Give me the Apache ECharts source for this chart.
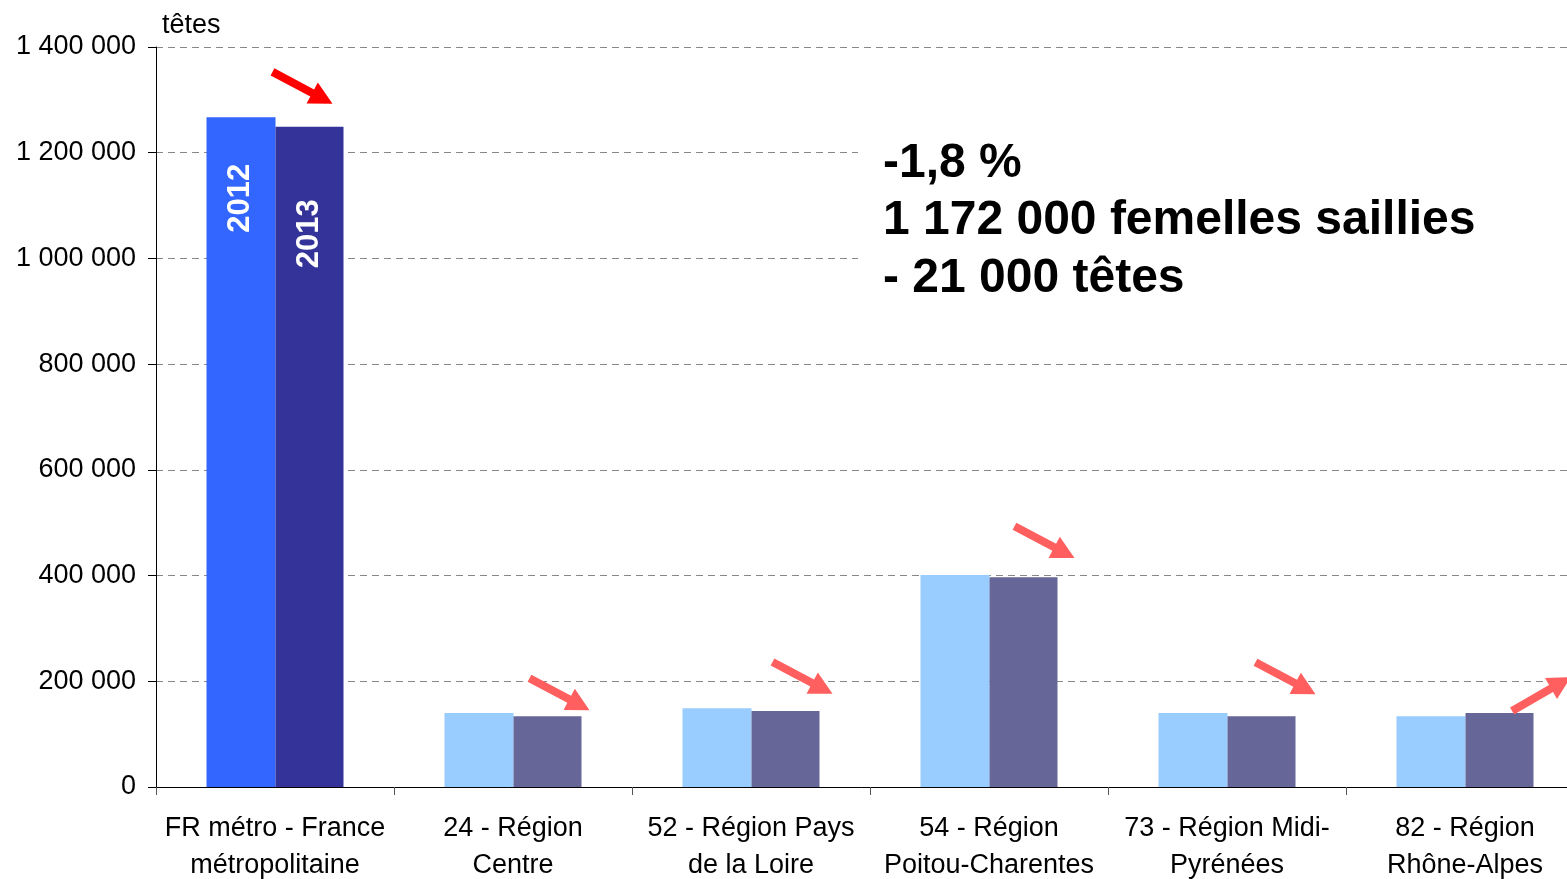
<!DOCTYPE html>
<html lang="fr">
<head>
<meta charset="UTF-8">
<title>Femelles saillies</title>
<script src="https://cdn.jsdelivr.net/npm/echarts@6/dist/echarts.min.js"></script>
<style>
html, body { margin: 0; padding: 0; background: #fff; }
#main { width: 1567px; height: 879px; }
</style>
</head>
<body>
<div id="main"></div>
<script type="text/javascript">
var categories = [
	'FR métro - France\nmétropolitaine',
	'24 - Région\nCentre',
	'52 - Région Pays\nde la Loire',
	'54 - Région\nPoitou-Charentes',
	'73 - Région Midi-\nPyrénées',
	'82 - Région\nRhône-Alpes'
];
var val2012 = [1267000, 140000, 149000, 401000, 140000, 134000];
var val2013 = [1249000, 134000, 144000, 397000, 134000, 140000];
var noteLines = ['-1,8 %', '1 172 000 femelles saillies', '- 21 000 têtes'];

// arrow placement next to each 2013 bar (px offset from bar top centre)
var arrowOffsets = [[-7, -39], [12, -22], [17, -33], [21, -35], [24, -38], [42, -19]];
var arrowRotate = [-28, -28, -28, -28, -28, 30];
var arrowPath = 'path://M0,8 L45,8 L45,0 L68,12 L45,24 L45,16 L0,16 Z';

function fmt(v) {
	return String(v).replace(/\B(?=(\d{3})+(?!\d))/g, ' ');
}

function barItems(vals, first, rest, year, off) {
	return vals.map(function (v, i) {
		var item = { value: v, itemStyle: { color: i === 0 ? first : rest } };
		if (i === 0) {
			item.label = {
				show: true, formatter: year, rotate: 90, position: [34, off],
				align: 'center', verticalAlign: 'middle',
				color: '#fff', fontSize: 31, fontWeight: 'bold', fontFamily: 'Liberation Sans'
			};
		}
		return item;
	});
}

var arrows = val2013.map(function (v, i) {
	return {
		coord: [i, v],
		symbol: arrowPath,
		symbolSize: [68, 24],
		symbolRotate: arrowRotate[i],
		symbolOffset: arrowOffsets[i],
		itemStyle: { color: i === 0 ? '#ff0000' : '#ff5f5f' },
		label: { show: false }
	};
});

var chart = echarts.init(document.getElementById('main'));
var option = {
	animation: false,
	textStyle: { fontFamily: 'Liberation Sans' },
	grid: { left: 156, top: 47, bottom: 92, right: -17, containLabel: false, outerBoundsMode: 'none' },
	xAxis: {
		type: 'category',
		data: categories,
		axisLine: { lineStyle: { color: '#000' } },
		axisTick: { show: true, length: 8, interval: 0, lineStyle: { color: '#555' } },
		axisLabel: { interval: 0, color: '#000', fontSize: 27, lineHeight: 37, margin: 23 }
	},
	yAxis: {
		type: 'value',
		min: 0, max: 1400000, interval: 200000,
		name: 'têtes',
		nameLocation: 'end',
		nameGap: 8,
		nameTextStyle: { color: '#000', fontSize: 27, align: 'left', padding: [0, 0, 0, 6] },
		axisLine: { show: true, lineStyle: { color: '#000' } },
		axisTick: { show: true, length: 8, lineStyle: { color: '#000' } },
		axisLabel: { color: '#000', fontSize: 27, margin: 20, formatter: fmt },
		splitLine: { lineStyle: { color: '#888', type: [7, 5] } }
	},
	series: [
		{
			name: '2012', type: 'bar', barWidth: 69, barGap: 0,
			data: barItems(val2012, '#3366ff', '#99ccff', '2012', 81)
		},
		{
			name: '2013', type: 'bar', barWidth: 68, barGap: 0,
			data: barItems(val2013, '#333399', '#666699', '2013', 107),
			markPoint: { silent: true, data: arrows }
		}
	],
	graphic: [
		{
			type: 'rect', left: 858, top: 122, z: 50,
			shape: { width: 720, height: 182 },
			style: { fill: '#fff' }
		},
		{
			type: 'text', left: 883, top: 135, z: 51,
			style: {
				text: noteLines.join('\n'),
				fill: '#000',
				font: 'bold 48px "Liberation Sans"',
				lineHeight: 57.5
			}
		}
	]
};
chart.setOption(option);
</script>
</body>
</html>
